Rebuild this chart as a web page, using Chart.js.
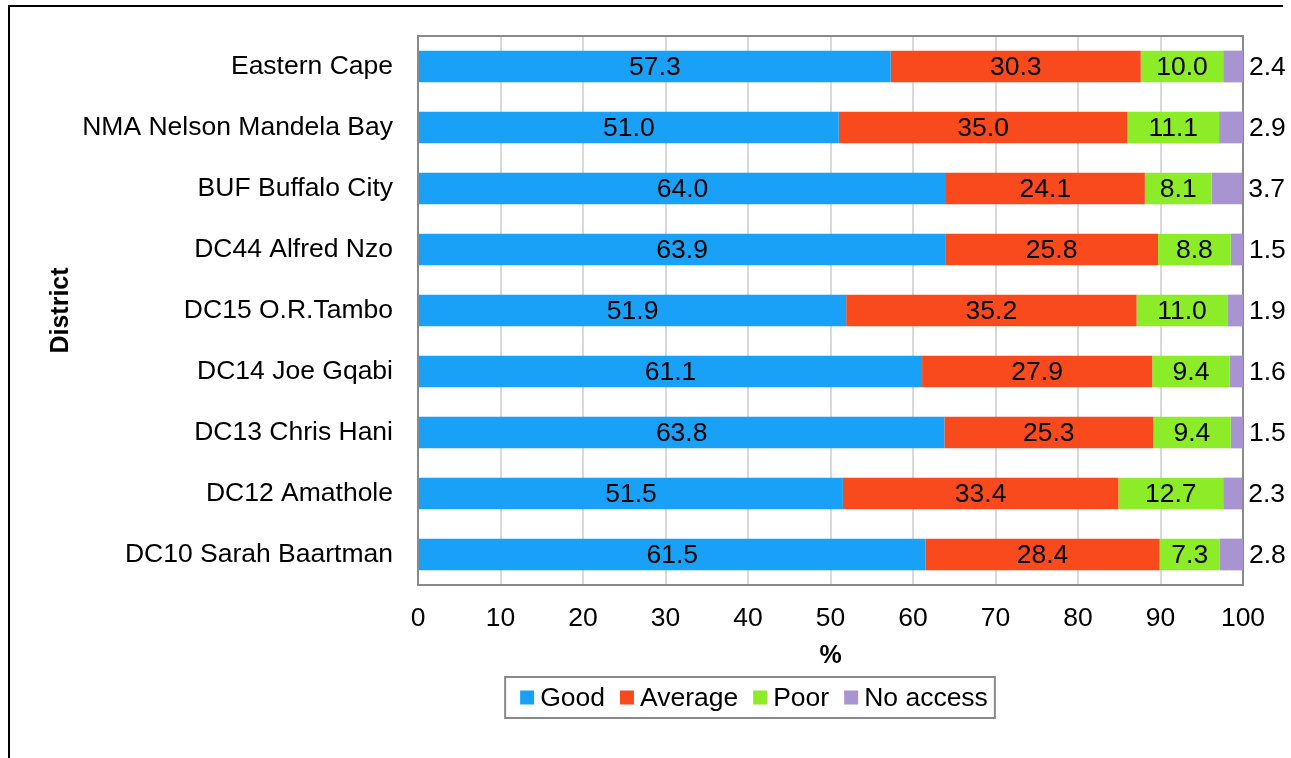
<!DOCTYPE html>
<html>
<head>
<meta charset="utf-8">
<script src="https://cdn.jsdelivr.net/npm/chart.js@4.4.1/dist/chart.umd.min.js"></script>
<style>
  html, body { margin: 0; padding: 0; background: #fff; }
  #wrap { position: relative; width: 1291px; height: 758px; }
</style>
</head>
<body>
<div id="wrap"><canvas id="barChart" width="1291" height="758"></canvas></div>
<script>
// datos (de arriba hacia abajo)
const districts = ['Eastern Cape', 'NMA Nelson Mandela Bay', 'BUF Buffalo City', 'DC44 Alfred Nzo',
  'DC15 O.R.Tambo', 'DC14 Joe Gqabi', 'DC13 Chris Hani', 'DC12 Amathole', 'DC10 Sarah Baartman'];
const good     = [57.3, 51.0, 64.0, 63.9, 51.9, 61.1, 63.8, 51.5, 61.5];
const average  = [30.3, 35.0, 24.1, 25.8, 35.2, 27.9, 25.3, 33.4, 28.4];
const poor     = [10.0, 11.1,  8.1,  8.8, 11.0,  9.4,  9.4, 12.7,  7.3];
const noAccess = [ 2.4,  2.9,  3.7,  1.5,  1.9,  1.6,  1.5,  2.3,  2.8];
const seriesNames = ['Good', 'Average', 'Poor', 'No access'];
const xTicks = [0, 10, 20, 30, 40, 50, 60, 70, 80, 90, 100];

const FONT = 'Liberation Sans, Arial, sans-serif';
const FSIZE = 26.5;
const colores = ['#18a1f6', '#f84a1c', '#8cec28', '#a894d0'];

// marco exterior, borde del area y etiquetas
const framePlugin = {
  id: 'framePlugin',
  beforeDraw(chart) {
    const ctx = chart.ctx;
    ctx.save();
    ctx.strokeStyle = '#000';
    ctx.lineWidth = 2;
    ctx.beginPath();
    ctx.moveTo(9, 760);
    ctx.lineTo(9, 6);
    ctx.lineTo(1283, 6);
    ctx.stroke();
    ctx.restore();
  },
  beforeDatasetsDraw(chart) {
    const a = chart.chartArea;
    const ctx = chart.ctx;
    ctx.save();
    ctx.strokeStyle = '#8a8a8a';
    ctx.lineWidth = 2;
    ctx.strokeRect(a.left, a.top, a.right - a.left, a.bottom - a.top);
    ctx.restore();
  },
  afterDatasetsDraw(chart) {
    const ctx = chart.ctx;
    ctx.save();
    ctx.font = FSIZE + 'px ' + FONT;
    ctx.fillStyle = '#000';
    ctx.textBaseline = 'middle';
    chart.data.datasets.forEach((ds, i) => {
      const meta = chart.getDatasetMeta(i);
      meta.data.forEach((bar, j) => {
        const txt = ds.data[j].toFixed(1);
        if (i === chart.data.datasets.length - 1) {
          ctx.textAlign = 'left';
          ctx.fillText(txt, bar.x + 6, bar.y + 1);
        } else {
          ctx.textAlign = 'center';
          ctx.fillText(txt, (bar.x + bar.base) / 2, bar.y + 1);
        }
      });
    });
    ctx.restore();
  },
  afterDraw(chart) {
    // leyenda con recuadro
    const ctx = chart.ctx;
    ctx.save();
    ctx.font = FSIZE + 'px ' + FONT;
    const sq = 14, gapTxt = 6, gapItem = 15, padL = 15, padR = 7;
    let w = padL + padR;
    chart.data.datasets.forEach((ds, i) => {
      w += sq + gapTxt + ctx.measureText(ds.label).width + (i < chart.data.datasets.length - 1 ? gapItem : 0);
    });
    const bx = 750 - w / 2, by = 677, bh = 41;
    ctx.strokeStyle = '#8a8a8a';
    ctx.lineWidth = 2;
    ctx.strokeRect(bx, by, w, bh);
    let x = bx + padL;
    const cy = by + bh / 2;
    ctx.textBaseline = 'middle';
    ctx.textAlign = 'left';
    chart.data.datasets.forEach((ds, i) => {
      ctx.fillStyle = ds.backgroundColor;
      ctx.fillRect(x, cy - sq / 2, sq, sq);
      x += sq + gapTxt;
      ctx.fillStyle = '#000';
      ctx.fillText(ds.label, x, cy + 1);
      x += ctx.measureText(ds.label).width + gapItem;
    });
    ctx.restore();
  }
};

const series = [good, average, poor, noAccess];

new Chart(document.getElementById('barChart').getContext('2d'), {
  type: 'bar',
  data: {
    labels: districts,
    datasets: series.map((d, i) => ({
      label: seriesNames[i],
      data: d,
      backgroundColor: colores[i],
      borderWidth: 0,
      categoryPercentage: 1,
      barPercentage: 0.52
    }))
  },
  options: {
    indexAxis: 'y',
    responsive: false,
    devicePixelRatio: 1,
    animation: false,
    layout: { padding: { left: 0, top: 36, right: 48, bottom: 83 } },
    plugins: {
      legend: { display: false },
      tooltip: { enabled: false }
    },
    scales: {
      x: {
        stacked: true,
        min: 0,
        max: 100,
        afterBuildTicks: (scale) => { scale.ticks = xTicks.map(v => ({ value: v })); },
        afterFit: (scale) => { scale.height = 90; },
        grid: { color: '#d9d9d9', lineWidth: 2, drawTicks: false },
        border: { display: false },
        ticks: { color: '#000', font: { family: FONT, size: FSIZE }, padding: 18 },
        title: { display: true, text: '%', color: '#000', font: { family: FONT, size: 25, weight: 'bold' }, padding: { top: 0, bottom: 4 } }
      },
      y: {
        stacked: true,
        afterFit: (scale) => { scale.width = 418; },
        grid: { display: false },
        border: { display: false },
        ticks: { color: '#000', font: { family: FONT, size: FSIZE }, padding: 17 },
        title: { display: true, text: 'District', color: '#000', font: { family: FONT, size: 25, weight: 'bold' }, padding: { top: 46, bottom: 0 } }
      }
    }
  },
  plugins: [framePlugin]
});
</script>
</body>
</html>
